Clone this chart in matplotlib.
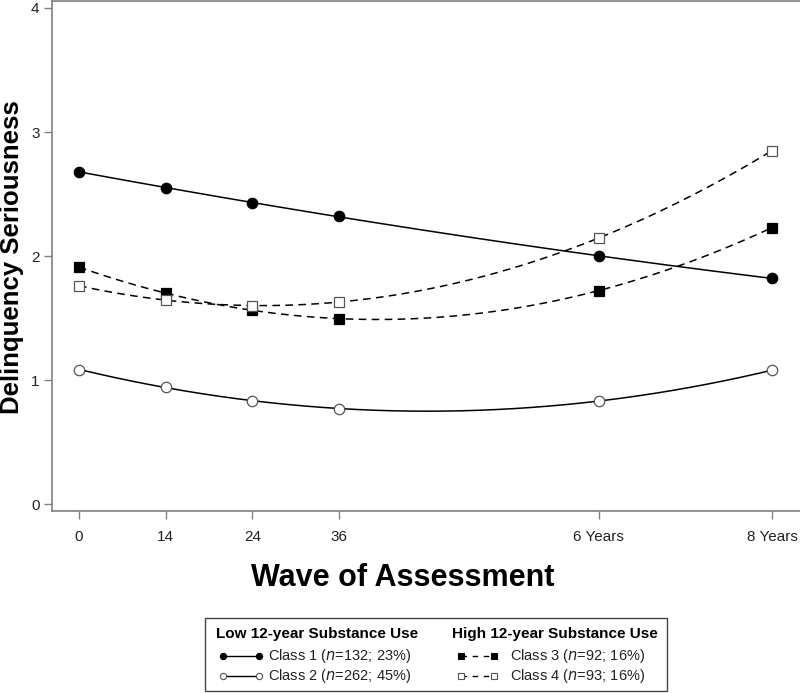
import numpy as np
import matplotlib.pyplot as plt
from matplotlib.lines import Line2D
from matplotlib.patches import Rectangle

plt.rcParams['font.family'] = ['Liberation Sans', 'DejaVu Sans']

# wave positions (years) and tick labels
waves = [0, 1, 2, 3, 6, 8]
wave_labels = ['0', '14', '24', '36', '6 Years', '8 Years']

class1 = [2.68, 2.55, 2.43, 2.32, 2.00, 1.82]
class2 = [1.085, 0.94, 0.835, 0.77, 0.83, 1.08]
class3 = [1.91, 1.70, 1.565, 1.495, 1.72, 2.23]
class4 = [1.76, 1.645, 1.60, 1.63, 2.145, 2.85]

class_names = ['Class 1 ($\\it{n}$=132; 23%)', 'Class 2 ($\\it{n}$=262; 45%)',
               'Class 3 ($\\it{n}$=92; 16%)', 'Class 4 ($\\it{n}$=93; 16%)']
group_titles = ['Low 12-year Substance Use', 'High 12-year Substance Use']

gray = '#808080'
dash = (0, (5, 3.5))
styles = [
    dict(ls='-', marker='o', mfc='black', mec='black', ms=7.5),
    dict(ls='-', marker='o', mfc='white', mec='#555555', ms=7.5),
    dict(ls=dash, marker='s', mfc='black', mec='black', ms=6.5),
    dict(ls=dash, marker='s', mfc='white', mec='#555555', ms=6.5),
]

fig = plt.figure(figsize=(8, 6.93), dpi=100)
ax = fig.add_axes([0.065, 0.2626, 0.935, 0.7366])

xs = np.array(waves, dtype=float)
xfine = np.linspace(0, 8, 200)
for vals, st in zip([class1, class2, class3, class4], styles):
    coef = np.polyfit(xs, vals, 2)
    ax.plot(xfine, np.polyval(coef, xfine), color='black', lw=1.1, ls=st['ls'], zorder=2)
    ax.plot(xs, vals, ls='none', marker=st['marker'], mfc=st['mfc'], mec=st['mec'],
            ms=st['ms'], mew=0.9, zorder=3)

ax.set_xlim(-0.312, 8.323)
ax.set_ylim(-0.056, 4.06)
ax.set_xticks(waves)
ax.set_xticklabels(wave_labels)
ax.set_yticks([0, 1, 2, 3, 4])
ax.tick_params(axis='both', colors=gray, labelcolor='#222222', labelsize=11, length=6, width=1)
ax.tick_params(axis='x', pad=8)
ax.tick_params(axis='y', pad=3)
ax.spines['right'].set_visible(False)
for s in ['left', 'bottom', 'top']:
    ax.spines[s].set_color(gray)
    ax.spines[s].set_linewidth(1.2)

fig.text(0.503, 1 - 578 / 693, 'Wave of Assessment', ha='center', va='center',
         fontsize=22, fontweight='bold')
fig.text(0.0145, 1 - 257 / 693, 'Delinquency Seriousness', ha='center', va='center',
         rotation=90, fontsize=18.5, fontweight='bold')

# legend box
W, H = 800, 693
lax = fig.add_axes([0, 0, 1, 1], facecolor='none')
lax.set_xlim(0, W)
lax.set_ylim(H, 0)
lax.axis('off')
lax.add_patch(Rectangle((205, 618), 462, 73, fill=False, ec='#444444', lw=1.0))

for g, (tx, hx0, hx1, txt_x) in enumerate([(216, 223, 259, 268), (452, 461, 494, 510)]):
    lax.text(tx, 634, group_titles[g], fontsize=11, fontweight='bold', va='center', ha='left')
    for r, yy in enumerate([656, 676]):
        k = 2 * g + r
        st = styles[k]
        lax.add_line(Line2D([hx0, hx1], [yy, yy], color='black', lw=1.0,
                            ls=(0, (4, 4)) if g == 1 else '-'))
        lax.add_line(Line2D([hx0, hx1], [yy, yy], ls='none', marker=st['marker'],
                            mfc=st['mfc'], mec=st['mec'], ms=4.5, mew=0.8))
        lax.text(txt_x, yy, class_names[k], fontsize=10.5, va='center', ha='left', color='#222222')

fig.savefig('out.png', dpi=100)
